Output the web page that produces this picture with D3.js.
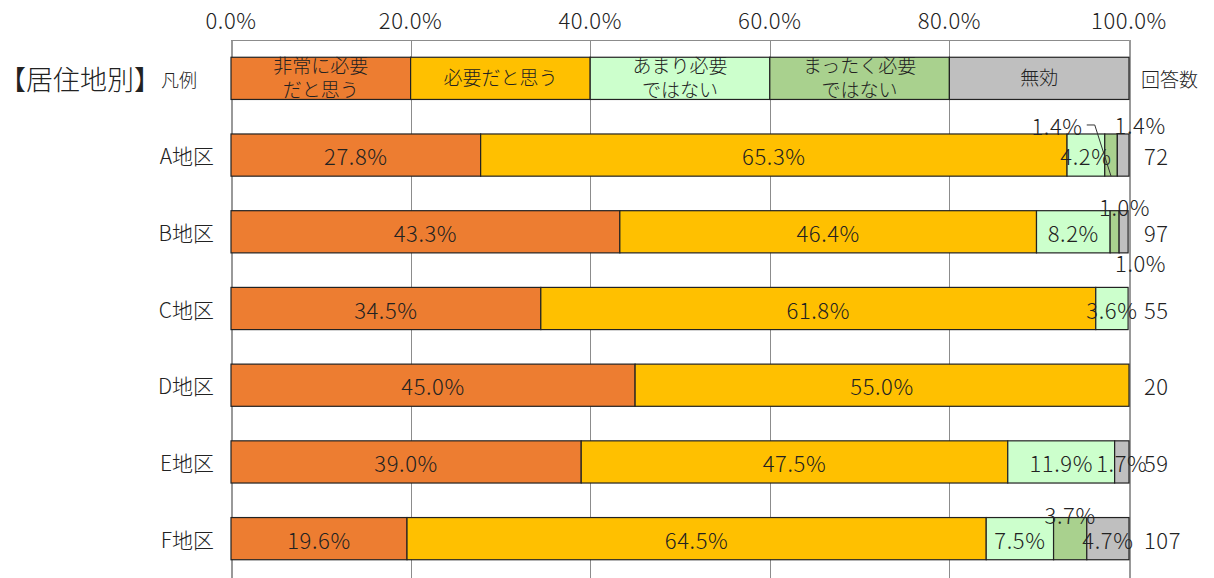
<!DOCTYPE html>
<html lang="ja">
<head>
<meta charset="utf-8">
<style>
body { margin: 0; background: #fff; }
svg text { font-family: "Noto Sans CJK JP", "Noto Sans", sans-serif; font-weight: 300; fill: #222; }
.grid line { stroke: #8c8c8c; stroke-width: 1; shape-rendering: crispEdges; }
.seg { stroke: #222; stroke-width: 1.2; }
.num { letter-spacing: 0.6px; }
</style>
</head>
<body>
<svg id="chart" width="1214" height="578"></svg>
<script src="https://cdn.jsdelivr.net/npm/d3@7"></script>
<script>
// data
var regions = ["A地区", "B地区", "C地区", "D地区", "E地区", "F地区"];
var answers = ["非常に必要だと思う", "必要だと思う", "あまり必要ではない", "まったく必要ではない", "無効"];
var legendLines = [["非常に必要", "だと思う"], ["必要だと思う"], ["あまり必要", "ではない"], ["まったく必要", "ではない"], ["無効"]];
var veryNeeded = [27.8, 43.3, 34.5, 45.0, 39.0, 19.6];
var needed     = [65.3, 46.4, 61.8, 55.0, 47.5, 64.5];
var notMuch    = [4.2, 8.2, 3.6, 0, 11.9, 7.5];
var notAtAll   = [1.4, 1.0, 0, 0, 0, 3.7];
var invalid    = [1.4, 1.0, 0, 0, 1.7, 4.7];
var counts     = [72, 97, 55, 20, 59, 107];
var ticks      = [0, 20, 40, 60, 80, 100];
var colors     = ["#ED7D31", "#FFC000", "#CCFFCC", "#A9D18E", "#BFBFBF"];

// where small labels do not fit inside their segment
var labelShift = {
  "0-3": [-54, -30], "0-4": [17, -31],
  "1-3": [10, -26], "1-4": [17, 30],
  "5-3": [0, -25]
};

var series = [veryNeeded, needed, notMuch, notAtAll, invalid];
var svg = d3.select("#chart");

var x = d3.scaleLinear().domain([0, 100]).range([231, 1129]);
var rows = ["凡例"].concat(regions);
var y = d3.scaleBand().domain(rows).range([40, 577]).paddingInner(0.45).paddingOuter(0.225);

// gridlines
var grid = svg.append("g").attr("class", "grid");
grid.selectAll("line.v").data(ticks).enter().append("line")
  .attr("x1", function(d) { return Math.round(x(d)) + 0.5; })
  .attr("x2", function(d) { return Math.round(x(d)) + 0.5; })
  .attr("y1", 40).attr("y2", 578)
  .style("stroke", function(d) { return d === 0 || d === 100 ? "#999" : "#8c8c8c"; })
  .style("stroke-width", function(d) { return d === 0 || d === 100 ? 2 : 1; });
grid.append("line").attr("x1", x(0)).attr("x2", x(100)).attr("y1", 40.5).attr("y2", 40.5);

// tick labels
svg.append("g").selectAll("text").data(ticks).enter().append("text")
  .attr("class", "num")
  .attr("x", function(d) { return x(d); })
  .attr("y", 19)
  .attr("text-anchor", "middle").attr("dominant-baseline", "central")
  .style("font-size", "22px")
  .text(function(d) { return d.toFixed(1) + "%"; });

// legend row
var ly = y("凡例"), bh = y.bandwidth();
var legend = svg.append("g");
legend.selectAll("rect").data(answers).enter().append("rect")
  .attr("class", "seg")
  .attr("x", function(d, i) { return x(i * 20); })
  .attr("y", ly).attr("width", x(20) - x(0)).attr("height", bh)
  .attr("fill", function(d, i) { return colors[i]; });
legend.selectAll("text").data(legendLines).enter().append("text")
  .attr("x", function(d, i) { return x(i * 20 + 10); })
  .attr("y", ly + bh / 2)
  .attr("text-anchor", "middle")
  .style("font-size", "19px")
  .each(function(d) {
    var t = d3.select(this);
    d.forEach(function(line, k) {
      t.append("tspan").attr("x", t.attr("x"))
        .attr("dy", k === 0 ? (d.length === 1 ? "0.35em" : "-0.3em") : "1.3em")
        .text(line);
    });
  });

svg.append("text").attr("x", -1).attr("y", ly + bh / 2).attr("dominant-baseline", "central")
  .style("font-size", "27px").text("【居住地別】");
svg.append("text").attr("x", 197).attr("y", ly + bh / 2 + 1).attr("dominant-baseline", "central")
  .attr("text-anchor", "end").style("font-size", "18px").text("凡例");
svg.append("text").attr("x", 1141).attr("y", ly + bh / 2).attr("dominant-baseline", "central")
  .style("font-size", "19px").text("回答数");

// category labels
svg.append("g").selectAll("text").data(regions).enter().append("text")
  .attr("x", 214).attr("y", function(d) { return y(d) + bh / 2; })
  .attr("text-anchor", "end").attr("dominant-baseline", "central")
  .style("font-size", "21px").text(function(d) { return d; });

// stacked bars
var segs = [];
regions.forEach(function(r, i) {
  var acc = 0;
  series.forEach(function(s, j) {
    if (s[i] > 0) segs.push({ row: i, col: j, r: r, v: s[i], x0: acc, x1: acc + s[i] });
    acc += s[i];
  });
});
segs.forEach(function(d) { if (d.x1 > 100) d.x1 = 100; });

var bars = svg.append("g");
bars.selectAll("rect").data(segs).enter().append("rect")
  .attr("class", "seg")
  .attr("x", function(d) { return x(d.x0); })
  .attr("y", function(d) { return y(d.r); })
  .attr("width", function(d) { return x(d.x1) - x(d.x0); })
  .attr("height", bh)
  .attr("fill", function(d) { return colors[d.col]; });

// leader line for A 1.4%
var a = segs.filter(function(d) { return d.row === 0 && d.col === 3; })[0];
var ay = y(a.r);
svg.append("path")
  .attr("d", "M" + (x(a.x0) - 18) + "," + (ay - 9) + " L" + (x(a.x0) - 10) + "," + (ay - 9) +
             " L" + ((x(a.x0) + x(a.x1)) / 2) + "," + (ay + bh))
  .attr("fill", "none").attr("stroke", "#333").attr("stroke-width", 1);

bars.selectAll("text").data(segs).enter().append("text")
  .attr("class", "num")
  .attr("x", function(d) {
    var s = labelShift[d.row + "-" + d.col];
    return (x(d.x0) + x(d.x1)) / 2 + (s ? s[0] : 0);
  })
  .attr("y", function(d) {
    var s = labelShift[d.row + "-" + d.col];
    return y(d.r) + bh / 2 + (s ? s[1] : 0);
  })
  .attr("text-anchor", "middle").attr("dominant-baseline", "central")
  .style("font-size", "22px")
  .text(function(d) { return d.v.toFixed(1) + "%"; });

// counts
svg.append("g").selectAll("text").data(counts).enter().append("text")
  .attr("class", "num")
  .attr("x", 1144).attr("y", function(d, i) { return y(regions[i]) + bh / 2; })
  .attr("dominant-baseline", "central")
  .style("font-size", "22px").text(function(d) { return d; });
</script>
</body>
</html>
